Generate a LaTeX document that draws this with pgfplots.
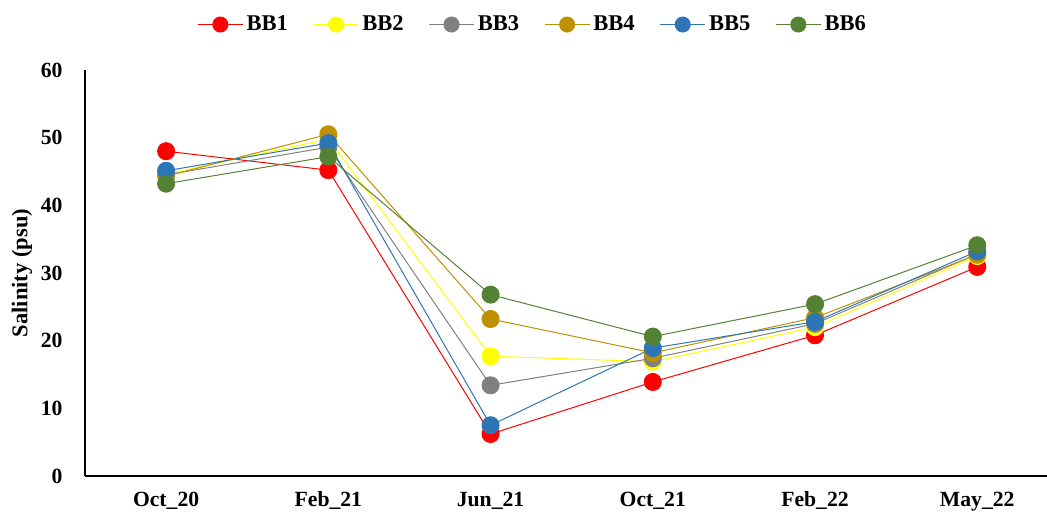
\documentclass[border=0pt]{standalone}
\usepackage{pgfplots}
\pgfplotsset{compat=1.18}
\usepackage{fontspec}
\setmainfont{Liberation Serif}
\definecolor{c1}{HTML}{FF0000}
\definecolor{c2}{HTML}{FFFF00}
\definecolor{c3}{HTML}{808080}
\definecolor{c4}{HTML}{BF9000}
\definecolor{c5}{HTML}{2E75B6}
\definecolor{c6}{HTML}{548235}
\begin{document}
\begin{tikzpicture}
\useasboundingbox (0,0) rectangle (628.2pt,310.2pt);
\begin{axis}[
  at={(51pt,24.6pt)}, anchor=south west,
  scale only axis, width=577.2pt, height=243.6pt,
  xmin=-0.5, xmax=5.43, ymin=0, ymax=60,
  axis lines*=left,
  axis line style={line width=1.1pt, -},
  xtick={0,1,2,3,4,5},
  xticklabels={Oct\_20, Feb\_21, Jun\_21, Oct\_21, Feb\_22, May\_22},
  ytick={0,10,20,30,40,50,60},
  major tick length=0pt,
  /pgf/number format/assume math mode=true,
  ticklabel style={font=\fontsize{13}{15}\selectfont\bfseries},
  xticklabel style={yshift=-6pt},
  yticklabel style={xshift=-10pt},
  ylabel={Salinity (psu)},
  ylabel style={font=\fontsize{13.5}{15}\selectfont\bfseries, at={(rel axis cs:0,0.5)}, anchor=center, yshift=37.8pt},
  legend columns=6,
  legend style={draw=none, at={(0.466,1.112)}, anchor=center, font=\fontsize{13.5}{15}\selectfont\bfseries,
    nodes={inner xsep=2pt},
    /tikz/every even column/.append style={column sep=13pt}},
  legend image code/.code={\draw[#1] (0pt,0pt) -- (27pt,0pt); \fill[#1] (13.5pt,0pt) circle[radius=4.5pt];},
  every axis plot/.append style={line width=0.6pt, mark=*, mark size=5.1pt},
]
\addplot[color=c1, mark options={fill=c1, draw=c1}] coordinates {(0,48.0) (1,45.2) (2,6.2) (3,13.9) (4,20.8) (5,30.9)};
\addplot[color=c2, mark options={fill=c2, draw=c2}] coordinates {(0,44.6) (1,49.8) (2,17.7) (3,16.9) (4,22.0) (5,32.5)};
\addplot[color=c3, mark options={fill=c3, draw=c3}] coordinates {(0,44.5) (1,48.6) (2,13.4) (3,17.4) (4,22.5) (5,32.8)};
\addplot[color=c4, mark options={fill=c4, draw=c4}] coordinates {(0,44.3) (1,50.5) (2,23.2) (3,18.2) (4,23.4) (5,32.7)};
\addplot[color=c5, mark options={fill=c5, draw=c5}] coordinates {(0,45.1) (1,49.2) (2,7.5) (3,18.9) (4,22.8) (5,33.2)};
\addplot[color=c6, mark options={fill=c6, draw=c6}] coordinates {(0,43.2) (1,47.2) (2,26.8) (3,20.6) (4,25.4) (5,34.1)};
\legend{BB1,BB2,BB3,BB4,BB5,BB6}
\end{axis}
\end{tikzpicture}
\end{document}
